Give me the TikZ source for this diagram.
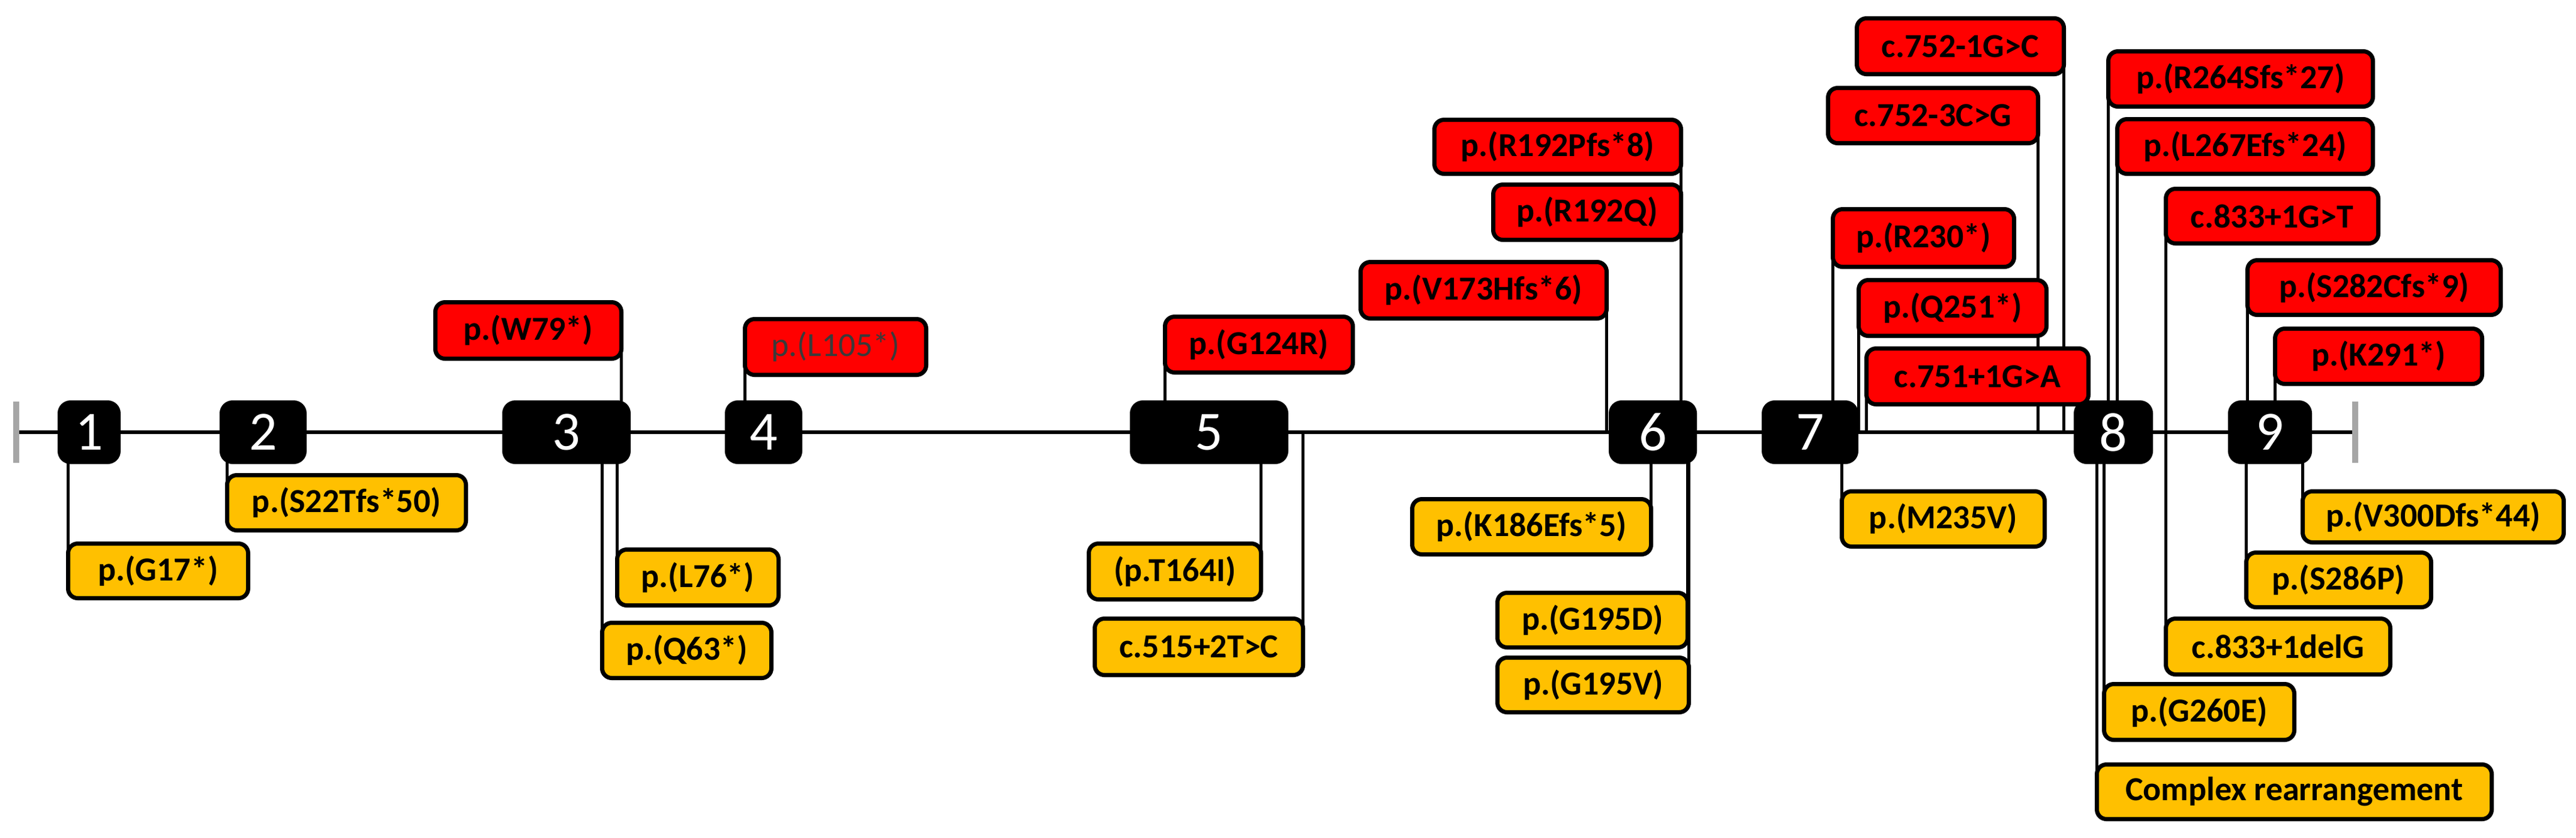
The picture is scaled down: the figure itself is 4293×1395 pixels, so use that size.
\documentclass[tikz,border=0pt]{standalone}
\usepackage{fontspec}
\setmainfont{Carlito}
\usetikzlibrary{backgrounds}
\definecolor{mutred}{HTML}{FF0000}
\definecolor{mutyel}{HTML}{FFC000}
\definecolor{tickgrey}{HTML}{A6A6A6}
\definecolor{darktext}{HTML}{3A3A3A}
\newcommand\mutbox[7]{\node[#1, minimum width={(#5-#3-7)*0.25pt}, minimum height={(#6-#4-7)*0.25pt}] (#2) at ({(#3+#5)/2},{(#4+#6)/2}) {#7};}
\begin{document}
\begin{tikzpicture}[x=0.25pt,y=-0.25pt,
  lbl/.style={draw=black, line width=1.75pt, rounded corners=4pt, inner sep=0pt, outer sep=0pt, font=\fontsize{14}{16}\selectfont\bfseries},
  redbox/.style={lbl, fill=mutred},
  yelbox/.style={lbl, fill=mutyel},
  exon/.style={fill=black, draw=black, line width=1.75pt, rounded corners=4.5pt, inner sep=0pt, outer sep=0pt, text=white, font=\fontsize{23}{26}\selectfont},
  conn/.style={line width=1.2pt},
  spine/.style={line width=1.3pt},
  tick/.style={draw=tickgrey, line width=2.5pt}]
\useasboundingbox (0,0) rectangle (4293,1395);
\coordinate (ln) at (0,720);
\coordinate (L0) at (31,720);
\coordinate (L1) at (3922,720);
\coordinate (tickL) at (27,720);
\coordinate (tickR) at (3925,720);
% exons
\mutbox{exon}{e1}{96}{667}{201}{773}{1}
\mutbox{exon}{e2}{366}{667}{511}{773}{2}
\mutbox{exon}{e3}{837}{667}{1051}{773}{3}
\mutbox{exon}{e4}{1208}{667}{1337}{773}{4}
\mutbox{exon}{e5}{1883}{667}{2147}{773}{5}
\mutbox{exon}{e6}{2681}{667}{2828}{773}{6}
\mutbox{exon}{e7}{2936}{667}{3097}{773}{7}
\mutbox{exon}{e8}{3456}{667}{3588}{773}{8}
\mutbox{exon}{e9}{3713}{667}{3853}{773}{9}
% red boxes
\mutbox{redbox}{w79}{722}{500}{1039}{601}{p.(W79*)}
\mutbox{redbox, font=\fontsize{14}{16}\selectfont, text=darktext}{l105}{1238}{528}{1547}{628}{p.(L105*)}
\mutbox{redbox}{g124r}{1938}{524}{2258}{624}{p.(G124R)}
\mutbox{redbox}{v173}{2264}{433}{2681}{534}{p.(V173Hfs*6)}
\mutbox{redbox}{r192p}{2387}{196}{2805}{293}{p.(R192Pfs*8)}
\mutbox{redbox}{r192q}{2485}{304}{2805}{403}{p.(R192Q)}
\mutbox{redbox}{r230}{3051}{345}{3360}{448}{p.(R230*)}
\mutbox{redbox}{q251}{3094}{463}{3414}{563}{p.(Q251*)}
\mutbox{redbox}{c751}{3107}{577}{3484}{677}{c.751+1G>A}
\mutbox{redbox}{c752a}{3091}{27}{3443}{127}{c.752-1G>C}
\mutbox{redbox}{c752b}{3043}{143}{3400}{242}{c.752-3C>G}
\mutbox{redbox}{r264}{3510}{82}{3958}{181}{p.(R264Sfs*27)}
\mutbox{redbox}{l267}{3525}{195}{3958}{293}{p.(L267Efs*24)}
\mutbox{redbox}{c833t}{3606}{311}{3967}{409}{c.833+1G>T}
\mutbox{redbox}{s282}{3742}{430}{4171}{528}{p.(S282Cfs*9)}
\mutbox{redbox}{k291}{3788}{544}{4140}{643}{p.(K291*)}
% yellow boxes
\mutbox{yelbox}{g17}{110}{902}{417}{1000}{p.(G17*)}
\mutbox{yelbox}{s22}{375}{788}{780}{887}{p.(S22Tfs*50)}
\mutbox{yelbox}{l76}{1025}{912}{1301}{1012}{p.(L76*)}
\mutbox{yelbox}{q63}{1000}{1034}{1289}{1133}{p.(Q63*)}
\mutbox{yelbox}{t164}{1811}{902}{2105}{1002}{(p.T164I)}
\mutbox{yelbox}{c515}{1821}{1027}{2175}{1128}{c.515+2T>C}
\mutbox{yelbox}{k186}{2350}{828}{2755}{927}{p.(K186Efs*5)}
\mutbox{yelbox}{g195d}{2492}{984}{2816}{1082}{p.(G195D)}
\mutbox{yelbox}{g195v}{2492}{1092}{2818}{1190}{p.(G195V)}
\mutbox{yelbox}{m235}{3066}{815}{3411}{914}{p.(M235V)}
\mutbox{yelbox}{g260}{3503}{1136}{3827}{1236}{p.(G260E)}
\mutbox{yelbox}{cplx}{3491}{1270}{4156}{1368}{Complex rearrangement}
\mutbox{yelbox}{c833d}{3606}{1027}{3987}{1127}{c.833+1delG}
\mutbox{yelbox}{s286}{3740}{917}{4055}{1015}{p.(S286P)}
\mutbox{yelbox}{v300}{3834}{815}{4276}{907}{p.(V300Dfs*44)}
\begin{pgfonlayer}{background}
\draw[spine] (L0) -- (L1);
\draw[tick] ([yshift=12.75pt]tickL) -- ([yshift=-12.75pt]tickL);
\draw[tick] ([yshift=12.75pt]tickR) -- ([yshift=-12.75pt]tickR);
% connectors above
\draw[conn] (w79.east) -- (w79.east |- e3.north);
\draw[conn] (l105.west) -- (l105.west |- e4.north);
\draw[conn] (g124r.west) -- (g124r.west |- e5.north);
\draw[conn] (v173.east) -- (v173.east |- ln);
\draw[conn] (r192p.east) -- (r192p.east |- e6.north);
\draw[conn] (r192q.east) -- (r192q.east |- e6.north);
\draw[conn] (r230.west) -- (r230.west |- e7.north);
\draw[conn] (q251.west) -- (q251.west |- ln);
\draw[conn] (c751.west) -- (c751.west |- ln);
\draw[conn] (c752a.east) -- (c752a.east |- ln);
\draw[conn] (c752b.east) -- (c752b.east |- ln);
\draw[conn] (r264.west) -- (r264.west |- e8.north);
\draw[conn] (l267.west) -- (l267.west |- e8.north);
\draw[conn] (c833t.west) -- (c833t.west |- ln);
\draw[conn] (s282.west) -- (s282.west |- e9.north);
\draw[conn] (k291.west) -- (k291.west |- e9.north);
% connectors below
\draw[conn] (g17.west) -- (g17.west |- e1.south);
\draw[conn] (s22.west) -- (s22.west |- e2.south);
\draw[conn] (l76.west) -- (l76.west |- e3.south);
\draw[conn] (q63.west) -- (q63.west |- e3.south);
\draw[conn] (t164.east) -- (t164.east |- e5.south);
\draw[conn] (c515.east) -- (c515.east |- ln);
\draw[conn] (k186.east) -- (k186.east |- e6.south);
\draw[conn] (g195d.east) -- (g195d.east |- e6.south);
\draw[conn] (g195v.east) -- (g195v.east |- e6.south);
\draw[conn] (m235.west) -- (m235.west |- e7.south);
\draw[conn] (g260.west) -- (g260.west |- e8.south);
\draw[conn] (cplx.west) -- (cplx.west |- e8.south);
\draw[conn] (c833d.west) -- (c833d.west |- ln);
\draw[conn] (s286.west) -- (s286.west |- e9.south);
\draw[conn] (v300.west) -- (v300.west |- e9.south);
\end{pgfonlayer}
\end{tikzpicture}
\end{document}
